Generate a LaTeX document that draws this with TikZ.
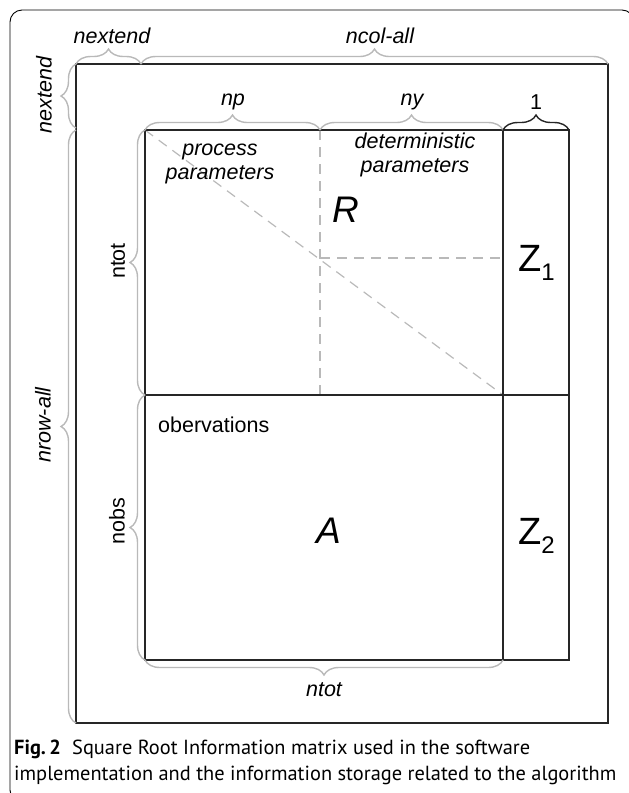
\documentclass[tikz,border=0pt]{standalone}
\usepackage{fontspec}
\setmainfont{Liberation Sans}
\newfontfamily\capfont{PT Sans}
\usetikzlibrary{decorations.pathreplacing}
\begin{document}
\begin{tikzpicture}[x=1pt,y=-1pt,
  grid/.style={line width=1.4pt, draw=black!85},
  brc/.style={draw=gray!55, line width=1.4pt, decorate, decoration={brace, amplitude=15pt}},
  brcdark/.style={brc, draw=black!85},
  guide/.style={draw=gray!55, line width=1.2pt, dash pattern=on 10pt off 7pt},
  lbl/.style={font=\fontsize{21.5}{24}\selectfont\itshape, inner sep=0pt, align=center},
  ulbl/.style={font=\fontsize{21.5}{24}\selectfont, inner sep=0pt},
  big/.style={font=\fontsize{38}{40}\selectfont, inner sep=0pt},
  captext/.style={font=\capfont\fontsize{20.4}{24}\selectfont, inner sep=0pt}]
\useasboundingbox (0,0) rectangle (629,793);

% figure frame
\draw[line width=0.9pt, rounded corners=12pt] (10,10) rectangle (634,802);

% corner points of the storage blocks
\coordinate (oTL) at (76,64);   \coordinate (oBR) at (608,723);
\coordinate (iTL) at (145,130); \coordinate (iBR) at (569,660);
\coordinate (xA) at (145,395);  \coordinate (xB) at (569,395);
\coordinate (zT) at (503,130);  \coordinate (zB) at (503,660);
\coordinate (pT) at (320,130);  \coordinate (pB) at (320,395);
\coordinate (pM) at (320,258);  \coordinate (zM) at (503,258);
\coordinate (zD) at (503,395);

% parameter partition guides
\draw[guide] (pT) -- (pB);
\draw[guide] (pM) -- (zM);
\draw[guide] (iTL) -- (zD);

% blocks
\draw[grid] (oTL) rectangle (oBR);
\draw[grid] (iTL) rectangle (iBR);
\draw[grid] (zT) -- (zB);
\draw[grid] (xA) -- (xB);

% dimension braces
\coordinate (c1) at (141,64);
\coordinate (r1) at (76,128);
\coordinate (r2) at (76,130);
\draw[brc] (oTL) -- (c1);
\draw[brc] (c1) -- (608,64);
\draw[brc] (r1) -- (oTL);
\draw[brc] (76,723) -- (r2);
\draw[brc] (iTL) -- (pT);
\draw[brc] (pT) -- (zT);
\draw[brcdark] (zT) -- (569,130);
\draw[brc] (xA) -- (iTL);
\draw[brc] (145,660) -- (xA);
\draw[brc] (zB) -- (145,660);

% dimension labels
\node[lbl] (lnx) at (112,36) {nextend};
\node[lbl] (lnc) at (380,36) {ncol-all};
\node[lbl, rotate=90] (lny) at (44,95) {nextend};
\node[lbl, rotate=90] (lnr) at (43,425) {nrow-all};
\node[lbl] (lnp) at (233,102) {np};
\node[lbl] (lnyy) at (412,102) {ny};
\node[ulbl] (lone) at (536,102) {1};
\node[ulbl, rotate=90] (lnt) at (118,261) {ntot};
\node[ulbl, rotate=90] (lno) at (117,521) {nobs};
\node[lbl] (lnb) at (324,690) {ntot};

% block contents
\node[lbl] (tpp) at (220,164) {process\\parameters};
\node[lbl] (tdp) at (415,155) {deterministic\\parameters};
\node[ulbl, anchor=base west] (tob) at (158,432) {obervations};
\node[big, anchor=base west, font=\fontsize{37}{40}\selectfont\itshape] (tR) at (332,222) {R};
\node[big, anchor=base west, font=\fontsize{37}{40}\selectfont\itshape] (tA) at (316,543) {A};
\node[big, anchor=base west] (tZ1) at (518,271) {Z\raisebox{-9pt}{\fontsize{24}{24}\selectfont 1}};
\node[big, anchor=base west] (tZ2) at (518,544) {Z\raisebox{-9pt}{\fontsize{24}{24}\selectfont 2}};

% caption
\node[captext, anchor=base west] (cp1) at (14,754) {{\bfseries Fig.\,2}\hspace{0.55em}Square Root Information matrix used in the software};
\node[captext, anchor=base west] (cp2) at (14,780) {implementation and the information storage related to the algorithm};
\end{tikzpicture}
\end{document}
